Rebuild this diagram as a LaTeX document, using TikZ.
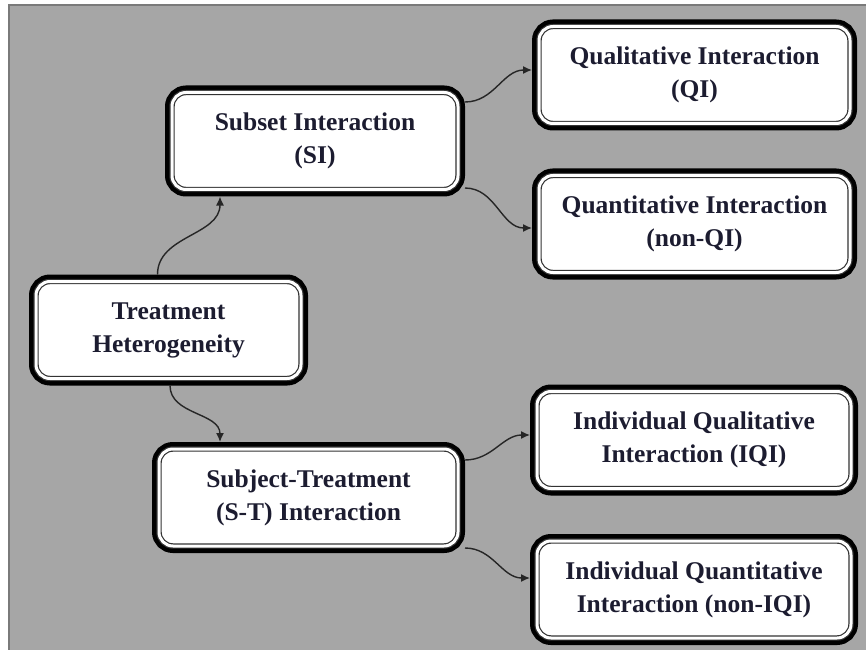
\documentclass[tikz,border=0pt]{standalone}
\usepackage{fontspec}
\setmainfont{Liberation Serif}
\usetikzlibrary{arrows.meta}
\definecolor{panelgray}{HTML}{A6A6A6}
\definecolor{panelrim}{HTML}{7A7A7A}
\definecolor{inkdark}{HTML}{1C1C30}

\begin{document}
\begin{tikzpicture}
	[
		x=1pt, y=1pt,
		% A box with a heavy black rim and a thin line just inside it.
		tbox/.style={
			rounded corners=14pt,
			fill=white,
			draw=black!80,
			line width=1.2pt,
			double=white,
			double distance=3pt,
			preaction={draw=black, line width=14pt},
			outer sep=7pt,
			minimum height=97pt,
			align=center,
			text=inkdark,
			font=\bfseries\fontsize{25.5}{33}\selectfont
		},
		% And one for the thin connectors.
		conn/.style={draw=black!85, line width=1.4pt, -{Latex[length=9pt,width=8pt]}}
	]
		% Grey panel behind everything
		\useasboundingbox (0,0) rectangle (866,649);
		\draw[panelrim, fill=panelgray, line width=2.5pt] (9,-5) rectangle (875,644);

		\node[tbox, minimum width=265pt] (th) at (168.5,319) {Treatment\\Heterogeneity};
		\node[tbox, minimum width=286pt] (si) at (315,508) {Subset Interaction\\(SI)};
		\node[tbox, minimum width=299pt] (st) at (308.5,151.5) {Subject-Treatment\\(S-T) Interaction};

		\node[tbox, minimum width=311pt] (qi) at (694.5,574) {Qualitative Interaction\\(QI)};
		\node[tbox, minimum width=311pt] (nqi) at (694.5,425) {Quantitative Interaction\\(non-QI)};
		\node[tbox, minimum width=314pt] (iqi) at (694,209) {Individual Qualitative\\Interaction (IQI)};
		\node[tbox, minimum width=314pt] (iqn) at (694,59.5) {Individual Quantitative\\Interaction (non-IQI)};

		% Draw connectors
		\draw[conn] ([xshift=-11]th.north) to[out=90,in=-90] ([xshift=-95]si.south);
		\draw[conn] ([xshift=1.5]th.south) to[out=-90,in=90] ([xshift=-88.5]st.north);
		\draw[conn] ([yshift=39]si.east) to[out=0,in=180] ([yshift=5]qi.west);
		\draw[conn] ([yshift=-47]si.east) to[out=0,in=180] ([yshift=-4]nqi.west);
		\draw[conn] ([yshift=37.5]st.east) to[out=0,in=180] ([yshift=5]iqi.west);
		\draw[conn] ([yshift=-50.5]st.east) to[out=0,in=180] ([yshift=11.5]iqn.west);
	\end{tikzpicture}
\end{document}
